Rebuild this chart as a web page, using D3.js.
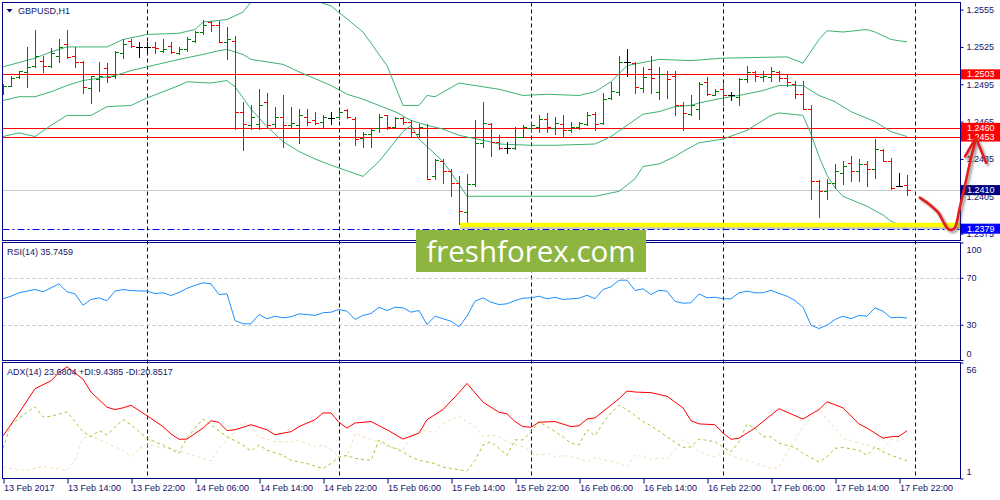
<!DOCTYPE html>
<html>
<head>
<meta charset="utf-8">
<style>
  body { margin: 0; background: #fff; }
  svg { display: block; font-family: "Liberation Sans", Arial, sans-serif; }
</style>
</head>
<body>
<svg width="1000" height="500"></svg>
<script src="https://cdn.jsdelivr.net/npm/d3@7"></script>
<script>
// GBPUSD H1, 13 Feb 06:00 .. 17 Feb 23:00 (one bar per hour)
var opens = [1.2489,1.2494,1.2501,1.2505,1.2510,1.2514,1.2510,1.2518,1.2527,1.2518,
  1.2513,1.2492,1.2499,1.2508,1.2502,1.2520,1.2530,1.2525,1.2525,1.2525,
  1.2522,1.2526,1.2520,1.2523,1.2530,1.2537,1.2545,1.2543,1.2529,1.2530,
  1.2473,1.2462,1.2463,1.2481,1.2463,1.2469,1.2462,1.2462,1.2469,1.2466,
  1.2465,1.2468,1.2469,1.2474,1.2467,1.2452,1.2455,1.2460,1.2470,1.2461,
  1.2468,1.2465,1.2455,1.2460,1.2421,1.2433,1.2425,1.2416,1.2392,1.2415,
  1.2448,1.2463,1.2449,1.2444,1.2444,1.2453,1.2460,1.2461,1.2467,1.2460,
  1.2463,1.2458,1.2461,1.2463,1.2471,1.2464,1.2484,1.2489,1.2513,1.2512,
  1.2492,1.2507,1.2489,1.2503,1.2502,1.2478,1.2471,1.2475,1.2497,1.2486,
  1.2491,1.2486,1.2485,1.2499,1.2505,1.2501,1.2501,1.2505,1.2500,1.2495,
  1.2487,1.2475,1.2417,1.2409,1.2416,1.2424,1.2432,1.2425,1.2431,1.2427,
  1.2442,1.2433,1.2413,1.2414];
var highs = [1.2495,1.2502,1.2506,1.2525,1.2539,1.2518,1.2524,1.2531,1.2539,1.2525,
  1.2514,1.2502,1.2513,1.2512,1.2522,1.2531,1.2531,1.2529,1.2529,1.2529,
  1.2531,1.2529,1.2525,1.2533,1.2538,1.2547,1.2546,1.2546,1.2541,1.2534,
  1.2481,1.2478,1.2491,1.2488,1.2477,1.2486,1.2477,1.2475,1.2475,1.2473,
  1.2470,1.2473,1.2474,1.2475,1.2469,1.2457,1.2459,1.2471,1.2470,1.2469,
  1.2469,1.2466,1.2463,1.2463,1.2435,1.2435,1.2427,1.2421,1.2423,1.2466,
  1.2481,1.2464,1.2454,1.2449,1.2461,1.2462,1.2465,1.2470,1.2472,1.2469,
  1.2470,1.2465,1.2465,1.2473,1.2473,1.2488,1.2497,1.2518,1.2523,1.2513,
  1.2509,1.2518,1.2509,1.2506,1.2506,1.2481,1.2486,1.2497,1.2501,1.2491,
  1.2495,1.2489,1.2500,1.2510,1.2506,1.2506,1.2509,1.2506,1.2503,1.2498,
  1.2498,1.2478,1.2418,1.2419,1.2431,1.2433,1.2437,1.2435,1.2433,1.2451,
  1.2443,1.2436,1.2424,1.2422];
var lows = [1.2487,1.2494,1.2500,1.2493,1.2509,1.2505,1.2509,1.2513,1.2516,1.2509,
  1.2488,1.2480,1.2490,1.2497,1.2500,1.2516,1.2525,1.2517,1.2521,1.2520,
  1.2521,1.2520,1.2519,1.2522,1.2529,1.2535,1.2538,1.2529,1.2515,1.2459,
  1.2442,1.2459,1.2459,1.2461,1.2460,1.2445,1.2461,1.2448,1.2462,1.2463,
  1.2460,1.2463,1.2467,1.2468,1.2446,1.2445,1.2445,1.2457,1.2459,1.2460,
  1.2463,1.2453,1.2453,1.2419,1.2419,1.2416,1.2405,1.2383,1.2384,1.2413,
  1.2445,1.2437,1.2443,1.2440,1.2443,1.2453,1.2457,1.2457,1.2457,1.2455,
  1.2453,1.2457,1.2459,1.2462,1.2458,1.2463,1.2483,1.2486,1.2502,1.2488,
  1.2489,1.2488,1.2483,1.2484,1.2470,1.2458,1.2470,1.2467,1.2486,1.2486,
  1.2478,1.2482,1.2478,1.2497,1.2498,1.2498,1.2498,1.2498,1.2494,1.2484,
  1.2475,1.2403,1.2388,1.2403,1.2412,1.2415,1.2417,1.2417,1.2413,1.2420,
  1.2433,1.2411,1.2413,1.2406];
var closes = [1.2494,1.2500,1.2506,1.2509,1.2518,1.2510,1.2520,1.2525,1.2517,1.2513,
  1.2493,1.2502,1.2502,1.2501,1.2521,1.2527,1.2526,1.2525,1.2525,1.2524,
  1.2523,1.2521,1.2523,1.2531,1.2537,1.2543,1.2543,1.2529,1.2531,1.2473,
  1.2463,1.2469,1.2478,1.2462,1.2469,1.2462,1.2464,1.2470,1.2465,1.2464,
  1.2469,1.2468,1.2473,1.2469,1.2451,1.2455,1.2458,1.2469,1.2461,1.2468,
  1.2465,1.2457,1.2461,1.2419,1.2434,1.2425,1.2416,1.2393,1.2415,1.2448,
  1.2464,1.2449,1.2444,1.2444,1.2453,1.2461,1.2462,1.2467,1.2461,1.2464,
  1.2458,1.2461,1.2464,1.2470,1.2463,1.2483,1.2490,1.2513,1.2513,1.2493,
  1.2501,1.2500,1.2503,1.2499,1.2478,1.2472,1.2478,1.2495,1.2487,1.2490,
  1.2486,1.2486,1.2499,1.2505,1.2502,1.2502,1.2506,1.2500,1.2497,1.2487,
  1.2475,1.2417,1.2409,1.2416,1.2425,1.2429,1.2425,1.2431,1.2427,1.2443,
  1.2433,1.2412,1.2413,1.2410];

// Bollinger bands, read as [bar, price] vertices
var bbUpper = [[0,1.2509],[4,1.2516],[6,1.2521],[8,1.2525],[13,1.2525],[15,1.2531],[18,1.2535],
  [22,1.2536],[24,1.2539],[25,1.2545],[28,1.2547],[30,1.2553],[31,1.2561],[36,1.2576],[40,1.2560],
  [41,1.2558],[45,1.2537],[48,1.2510],[50,1.2478],[52,1.2478],[53,1.2486],[54,1.2485],[57,1.2496],
  [59,1.2494],[62,1.2491],[65,1.2486],[68,1.2487],[72,1.2486],[74,1.2489],[76,1.2497],[78,1.2510],
  [82,1.2515],[86,1.2514],[90,1.2516],[98,1.2517],[100,1.2512],[102,1.2531],[103,1.2538],
  [105,1.2537],[108,1.2539],[109,1.2537],[111,1.2531],[113,1.2529]];
var bbMiddle = [[0,1.2482],[2,1.2485],[4,1.2485],[6,1.2489],[8,1.2494],[10,1.2498],[12,1.2500],
  [14,1.2502],[16,1.2506],[18,1.2509],[22,1.2515],[25,1.2519],[27,1.2522],[28,1.2523],[30,1.2519],
  [31,1.2515],[35,1.2511],[37,1.2505],[41,1.2494],[43,1.2487],[45,1.2483],[47,1.2478],[49,1.2473],
  [51,1.2466],[53,1.2462],[55,1.2459],[57,1.2454],[60,1.2450],[62,1.2447],[66,1.2446],[69,1.2446],
  [74,1.2447],[76,1.2453],[78,1.2462],[80,1.2471],[82,1.2473],[84,1.2477],[86,1.2478],[87,1.2480],
  [90,1.2484],[92,1.2486],[95,1.2490],[97,1.2494],[98,1.2494],[100,1.2494],[102,1.2486],
  [104,1.2481],[106,1.2473],[109,1.2465],[111,1.2457],[113,1.2453]];
var bbLower = [[0,1.2453],[2,1.2456],[4,1.2453],[6,1.2462],[8,1.2470],[11,1.2470],[13,1.2477],
  [16,1.2478],[18,1.2484],[22,1.2494],[23,1.2497],[26,1.2496],[28,1.2498],[29,1.2493],[31,1.2475],
  [33,1.2461],[35,1.2449],[37,1.2441],[39,1.2435],[41,1.2430],[45,1.2421],[47,1.2433],[50,1.2457],
  [51,1.2462],[52,1.2451],[55,1.2433],[57,1.2415],[58,1.2405],[62,1.2405],[66,1.2405],[70,1.2405],
  [74,1.2405],[77,1.2409],[79,1.2419],[80,1.2429],[82,1.2431],[84,1.2437],[85,1.2441],[87,1.2448],
  [90,1.2451],[93,1.2458],[96,1.2470],[97,1.2472],[100,1.2470],[101,1.2455],[102,1.2437],
  [103,1.2422],[104,1.2412],[105,1.2405],[108,1.2397],[110,1.2390],[111,1.2385],[113,1.2379]];

// RSI(14), one value per bar
var rsi = [52.1,54.3,57.2,58.6,60.0,58.0,61.4,64.8,58.0,56.3,
  46.6,51.5,52.9,50.4,58.6,60.0,59.1,58.8,58.6,56.6,
  57.2,54.9,57.5,61.0,63.5,65.7,64.8,55.7,56.3,33.6,
  30.8,30.8,38.7,35.1,37.3,35.9,36.8,39.3,38.7,37.9,
  40.2,40.7,43.0,41.5,34.5,37.9,39.6,44.9,42.1,44.9,
  44.4,40.7,42.1,30.2,37.3,35.1,33.0,28.3,37.3,50.0,
  52.9,49.2,47.2,47.8,50.6,52.6,52.9,54.3,52.1,53.4,
  51.5,52.1,52.6,55.1,52.1,60.0,62.3,67.9,67.9,59.1,
  60.6,55.7,59.4,58.6,50.0,48.3,48.7,56.3,52.9,53.4,
  52.1,52.1,57.2,58.6,57.2,57.2,59.4,56.6,54.3,50.6,
  44.9,29.6,26.8,29.6,34.5,37.3,35.1,37.9,37.3,44.4,
  41.5,35.9,36.4,35.7459];

// ADX(14) lines, [bar, value] vertices
var adx = [[0,21.2],[2,32.1],[4,43.6],[6,47.3],[7,51.3],[8,54.0],[10,48.1],[11,42.0],[13,34.8],
  [14,33.7],[15,34.5],[16,35.7],[18,30.8],[20,25.6],[21,22.1],[22,19.6],[23,19.7],[25,24.9],
  [26,28.4],[27,27.6],[28,23.7],[29,24.1],[31,26.5],[33,24.1],[34,21.7],[35,22.5],[36,23.2],
  [37,25.6],[39,28.9],[40,32.1],[41,32.1],[42,27.6],[43,24.9],[44,27.3],[46,28.0],[48,24.1],
  [50,19.7],[52,22.5],[53,28.9],[55,33.7],[57,41.7],[58,46.1],[60,37.2],[62,32.4],[63,31.7],
  [64,28.0],[65,25.6],[66,25.3],[67,27.7],[69,28.0],[71,25.6],[72,26.0],[73,29.2],[74,29.7],
  [75,32.8],[77,38.8],[78,42.5],[79,42.0],[81,41.7],[83,40.0],[85,34.5],[86,28.4],[87,26.9],
  [89,26.5],[90,22.5],[91,19.6],[92,20.1],[94,24.9],[95,28.0],[97,34.1],[99,30.8],[100,29.2],
  [102,33.7],[103,37.4],[105,34.5],[107,26.9],[108,24.9],[110,20.1],[111,20.8],[112,21.0],
  [113,23.6804]];
var plusDI = [[0,15.3],[1,26.5],[3,32.4],[4,35.0],[5,30.2],[6,30.5],[8,32.6],[10,23.2],[11,20.8],
  [12,23.7],[13,21.7],[15,28.9],[16,26.5],[18,20.1],[19,18.4],[20,16.9],[22,12.9],[23,20.5],
  [25,29.2],[26,26.5],[28,20.8],[30,16.9],[31,14.1],[32,16.9],[33,14.4],[35,12.0],[36,9.6],
  [38,8.1],[40,5.7],[41,8.1],[42,11.2],[43,12.0],[44,10.5],[46,9.6],[47,19.3],[48,16.9],
  [50,13.6],[51,11.2],[52,9.6],[54,8.1],[55,6.4],[58,4.5],[59,9.6],[60,16.9],[61,18.4],
  [62,15.3],[63,12.0],[64,19.3],[65,19.3],[66,23.2],[67,28.0],[68,25.6],[70,20.8],[71,17.7],
  [72,16.9],[73,24.1],[74,21.2],[75,27.3],[76,32.1],[77,35.7],[78,33.7],[80,28.0],[81,26.0],
  [83,20.8],[85,15.7],[86,16.0],[87,19.7],[89,18.4],[90,16.0],[91,13.6],[92,18.4],[93,26.8],
  [94,24.9],[95,20.8],[96,20.8],[97,17.7],[99,15.7],[100,12.9],[102,8.8],[103,11.2],[104,15.3],
  [105,15.7],[107,14.4],[108,12.0],[109,16.0],[110,13.6],[111,12.0],[113,9.4385]];
var minusDI = [[0,6.4],[1,5.7],[3,4.8],[5,6.8],[6,6.1],[8,4.8],[9,9.6],[10,20.1],[11,21.2],
  [13,17.7],[15,14.4],[16,11.2],[17,15.3],[18,16.9],[20,15.7],[21,15.3],[23,12.9],[25,10.5],
  [26,9.3],[27,15.3],[29,23.2],[30,28.0],[31,25.6],[32,20.8],[34,18.4],[36,18.4],[37,19.3],
  [39,16.0],[40,16.9],[41,14.8],[42,11.2],[43,11.2],[44,22.5],[45,20.8],[47,18.4],[48,16.0],
  [50,14.8],[51,20.8],[52,24.1],[54,22.8],[55,27.3],[57,30.5],[59,25.6],[60,20.8],[61,21.7],
  [62,20.8],[63,18.4],[65,16.0],[66,13.6],[67,12.0],[68,12.9],[69,11.2],[70,12.0],[72,10.5],
  [73,8.8],[74,10.9],[75,10.0],[77,8.4],[78,6.4],[79,12.4],[80,11.2],[81,10.0],[82,10.9],
  [83,10.0],[84,14.4],[85,19.3],[86,16.9],[87,13.6],[89,11.2],[90,13.6],[91,12.0],[92,10.5],
  [93,9.6],[95,7.2],[96,5.7],[97,6.1],[98,13.6],[99,19.3],[100,25.6],[102,33.7],[103,28.9],
  [104,24.9],[105,20.1],[107,17.7],[108,16.9],[109,15.7],[110,14.4],[111,19.6],[112,18.4],
  [113,20.8517]];

var timeLabels = ["13 Feb 2017","13 Feb 14:00","13 Feb 22:00","14 Feb 06:00","14 Feb 14:00",
  "14 Feb 22:00","15 Feb 06:00","15 Feb 14:00","15 Feb 22:00","16 Feb 06:00","16 Feb 14:00",
  "16 Feb 22:00","17 Feb 06:00","17 Feb 14:00","17 Feb 22:00"];
var timeLabelBars = [0,8,16,24,32,40,48,56,64,72,80,88,96,104,112];
var daySeparators = [18,42,66,90,114];

var priceTicks = [1.2555,1.2525,1.2495,1.2465,1.2435,1.2405,1.2375];
var rsiTicks = [100,70,30,0];
var rsiLevels = [70,30];
var adxTicks = [56,1];

var redLevels = [1.2503,1.2460,1.2453];
var bidPrice = 1.2410;
var supportLevel = 1.2379;
var yellowLevel = 1.2382, yellowFromBar = 57;

// hand-drawn arrow, [bar, price]
var arrowStroke = [[114.6,1.2404],[115.5,1.2400],[116.25,1.2396],[116.9,1.2392],[117.5,1.2385],
  [118.1,1.2379],[118.6,1.2378],[119,1.2380],[119.6,1.2396],[120.25,1.2414],[120.9,1.2433],
  [121.6,1.2451]];
var arrowHead = [[120.25,1.2437],[121.6,1.2452],[122.9,1.2432]];

var svg = d3.select("svg");
var navy = "#000080", textColor = "#14146e";
var left = 2.5, right = 960.5;
var main = {top: 2.5, bottom: 240.5},
    rsiPane = {top: 242.5, bottom: 360.5},
    adxPane = {top: 362.5, bottom: 478.5};

var x = d3.scaleLinear().domain([0, 119.5]).range([3, 959]);
var y = d3.scaleLinear().domain([1.23695, 1.25607]).range([main.bottom, main.top]);
var yRsi = d3.scaleLinear().domain([0, 100]).range([360, 242.5]);
var yAdx = d3.scaleLinear().domain([1, 56]).range([478.5, 362.5]);

var defs = svg.append("defs");
defs.append("clipPath").attr("id", "clip-main")
  .append("rect").attr("x", left).attr("y", main.top)
  .attr("width", right - left).attr("height", main.bottom - main.top);
defs.append("filter").attr("id", "shadow")
    .attr("x", "-20%").attr("y", "-20%").attr("width", "150%").attr("height", "150%")
  .append("feDropShadow")
    .attr("dx", 2).attr("dy", 2).attr("stdDeviation", 1.2)
    .attr("flood-color", "#444").attr("flood-opacity", 0.55);

function crisp(v) { return Math.round(v) + 0.5; }

// period separators
svg.append("g").selectAll("line")
  .data(daySeparators)
  .enter().append("line")
    .attr("x1", function(d) { return crisp(x(d)); })
    .attr("x2", function(d) { return crisp(x(d)); })
    .attr("y1", main.top).attr("y2", adxPane.bottom)
    .attr("stroke", navy).attr("stroke-dasharray", "4,3");

var g = svg.append("g").attr("clip-path", "url(#clip-main)");

// horizontal levels
g.append("line")
    .attr("x1", left).attr("x2", right)
    .attr("y1", crisp(y(bidPrice))).attr("y2", crisp(y(bidPrice)))
    .attr("stroke", "#c8c8c8");

g.selectAll(".level")
  .data(redLevels)
  .enter().append("line")
    .attr("class", "level")
    .attr("x1", left).attr("x2", right)
    .attr("y1", function(d) { return crisp(y(d)); })
    .attr("y2", function(d) { return crisp(y(d)); })
    .attr("stroke", "#ff0000");

g.append("line")
    .attr("x1", left).attr("x2", right)
    .attr("y1", crisp(y(supportLevel))).attr("y2", crisp(y(supportLevel)))
    .attr("stroke", "#0000ff").attr("stroke-dasharray", "7,3,2,3");

// Bollinger bands
var bandLine = d3.line()
    .x(function(d) { return x(d[0]); })
    .y(function(d) { return y(d[1]); });

g.selectAll(".band")
  .data([bbUpper, bbMiddle, bbLower])
  .enter().append("path")
    .attr("class", "band")
    .attr("d", bandLine)
    .attr("fill", "none")
    .attr("stroke", "#3cb371");

// OHLC bars
var bars = closes.map(function(c, i) {
  return {i: i, o: opens[i], h: highs[i], l: lows[i], c: c};
});

g.selectAll(".bar")
  .data(bars)
  .enter().append("path")
    .attr("class", "bar")
    .attr("d", function(d) {
      var cx = crisp(x(d.i));
      return "M" + cx + "," + Math.round(y(d.h)) + "V" + (Math.round(y(d.l)) + 1) +
        "M" + (cx - 3.5) + "," + crisp(y(d.o)) + "H" + cx +
        "M" + cx + "," + crisp(y(d.c)) + "H" + (cx + 3.5);
    })
    .attr("fill", "none")
    .attr("stroke-width", 1)
    .attr("stroke", function(d) {
      return d.c > d.o ? "#008000" : d.c < d.o ? "#ff0000" : "#000000";
    });

// yellow support marker
var yy = y(yellowLevel);
g.append("line")
    .attr("x1", x(yellowFromBar) + 1).attr("x2", right)
    .attr("y1", yy + 2.5).attr("y2", yy + 2.5)
    .attr("stroke", "#b0b0b0").attr("stroke-width", 3).attr("opacity", 0.7);
g.append("line")
    .attr("x1", x(yellowFromBar) + 1).attr("x2", right)
    .attr("y1", yy).attr("y2", yy)
    .attr("stroke", "#ffff00").attr("stroke-width", 4.5);

// RSI pane
svg.selectAll(".rsi-level")
  .data(rsiLevels)
  .enter().append("line")
    .attr("class", "rsi-level")
    .attr("x1", left).attr("x2", right)
    .attr("y1", function(d) { return crisp(yRsi(d)); })
    .attr("y2", function(d) { return crisp(yRsi(d)); })
    .attr("stroke", "#c0c0c0").attr("stroke-dasharray", "3,3");

svg.append("path")
    .datum(rsi)
    .attr("d", d3.line()
      .x(function(d, i) { return x(i); })
      .y(function(d) { return yRsi(d); }))
    .attr("fill", "none")
    .attr("stroke", "#1e90ff");

// ADX pane
var adxLine = d3.line()
    .x(function(d) { return x(d[0]); })
    .y(function(d) { return yAdx(d[1]); });

svg.append("path").datum(minusDI).attr("d", adxLine)
    .attr("fill", "none").attr("stroke", "#f5deb3").attr("stroke-dasharray", "3,3");
svg.append("path").datum(plusDI).attr("d", adxLine)
    .attr("fill", "none").attr("stroke", "#9acd32").attr("stroke-dasharray", "3,3");
svg.append("path").datum(adx).attr("d", adxLine)
    .attr("fill", "none").attr("stroke", "#ff0000");

// pane borders
[main, rsiPane, adxPane].forEach(function(p) {
  svg.append("rect")
      .attr("x", left).attr("y", p.top)
      .attr("width", right - left).attr("height", p.bottom - p.top)
      .attr("fill", "none").attr("stroke", navy);
});

// axes
function styleAxis(sel) {
  sel.select(".domain").remove();
  sel.attr("color", navy);
  sel.selectAll("text")
      .attr("fill", textColor)
      .style("font-family", "'Liberation Sans', Arial, sans-serif")
      .style("font-size", "9px");
}

svg.append("g")
    .attr("transform", "translate(" + right + ",0)")
    .call(d3.axisRight(y).tickValues(priceTicks).tickSize(3).tickFormat(d3.format(".4f")))
    .call(styleAxis);

svg.append("g")
    .attr("transform", "translate(" + right + ",0)")
    .call(d3.axisRight(yRsi).tickValues(rsiTicks).tickSize(3))
    .call(styleAxis)
    .selectAll("text")
      .attr("y", function(d) { return d === 100 ? 7 : d === 0 ? -6.5 : 0; });

svg.append("g")
    .attr("transform", "translate(" + right + ",0)")
    .call(d3.axisRight(yAdx).tickValues(adxTicks).tickSize(3))
    .call(styleAxis)
    .selectAll("text")
      .attr("y", function(d) { return d === 56 ? 7 : -6.5; });

var timeAxis = svg.append("g")
    .attr("transform", "translate(0," + adxPane.bottom + ")")
    .call(d3.axisBottom(x).tickValues(timeLabelBars).tickSize(5)
      .tickFormat(function(d, i) { return timeLabels[i]; }))
    .call(styleAxis);
timeAxis.selectAll(".tick line").attr("transform", "translate(0.5,0)");
timeAxis.selectAll("text").attr("text-anchor", "start").attr("x", 0.5).attr("y", 6);

// highlighted price labels
var priceBoxes = [
  {price: 1.2503, color: "#ff0000"},
  {price: 1.2460, color: "#ff0000"},
  {price: 1.2453, color: "#ff0000"},
  {price: bidPrice, color: "#000080"},
  {price: supportLevel, color: "#0000ff"}
];

var box = svg.selectAll(".pbox")
  .data(priceBoxes)
  .enter().append("g")
    .attr("class", "pbox")
    .attr("transform", function(d) { return "translate(" + (right + 0.5) + "," + y(d.price) + ")"; });
box.append("rect")
    .attr("x", 0).attr("y", -5).attr("width", 40).attr("height", 10)
    .attr("fill", function(d) { return d.color; });
box.append("text")
    .attr("x", 6).attr("dy", "0.34em")
    .attr("fill", "#fff")
    .style("font-size", "9px")
    .text(function(d) { return d3.format(".4f")(d.price); });

// hand-drawn arrow
var arrowLine = d3.line()
    .curve(d3.curveCatmullRom)
    .x(function(d) { return x(d[0]); })
    .y(function(d) { return y(d[1]); });

var arrow = svg.append("g").attr("filter", "url(#shadow)");
arrow.append("path").datum(arrowStroke).attr("d", arrowLine)
    .attr("fill", "none").attr("stroke", "#e41a1a")
    .attr("stroke-width", 2.6).attr("stroke-linecap", "round").attr("stroke-linejoin", "round");
arrow.append("path").datum(arrowHead).attr("d", d3.line()
      .x(function(d) { return x(d[0]); })
      .y(function(d) { return y(d[1]); }))
    .attr("fill", "none").attr("stroke", "#e41a1a")
    .attr("stroke-width", 2.6).attr("stroke-linecap", "round").attr("stroke-linejoin", "round");

// titles
svg.append("path")
    .attr("d", "M6.5,9L12.5,9L9.5,12.5Z")
    .attr("fill", navy);
svg.append("text")
    .attr("x", 18).attr("y", 14)
    .attr("fill", textColor).style("font-size", "9px")
    .text("GBPUSD,H1");
svg.append("text")
    .attr("x", 7).attr("y", 255)
    .attr("fill", textColor).style("font-size", "9px")
    .text("RSI(14) " + d3.format(".4f")(rsi[rsi.length - 1]));
svg.append("text")
    .attr("x", 7).attr("y", 375)
    .attr("fill", textColor).style("font-size", "9px")
    .text("ADX(14) " + d3.format(".4f")(adx[adx.length - 1][1]) +
      " +DI:" + d3.format(".4f")(plusDI[plusDI.length - 1][1]) +
      " -DI:" + d3.format(".4f")(minusDI[minusDI.length - 1][1]));

// watermark
svg.append("rect")
    .attr("x", 416).attr("y", 230).attr("width", 230).attr("height", 42)
    .attr("fill", "#8db53f");
svg.append("text")
    .attr("x", 531).attr("y", 261.5)
    .attr("text-anchor", "middle")
    .attr("fill", "#ffffff")
    .style("font-family", "'Open Sans', sans-serif")
    .style("font-size", "29.5px")
    .text("freshforex.com");
</script>
</body>
</html>
